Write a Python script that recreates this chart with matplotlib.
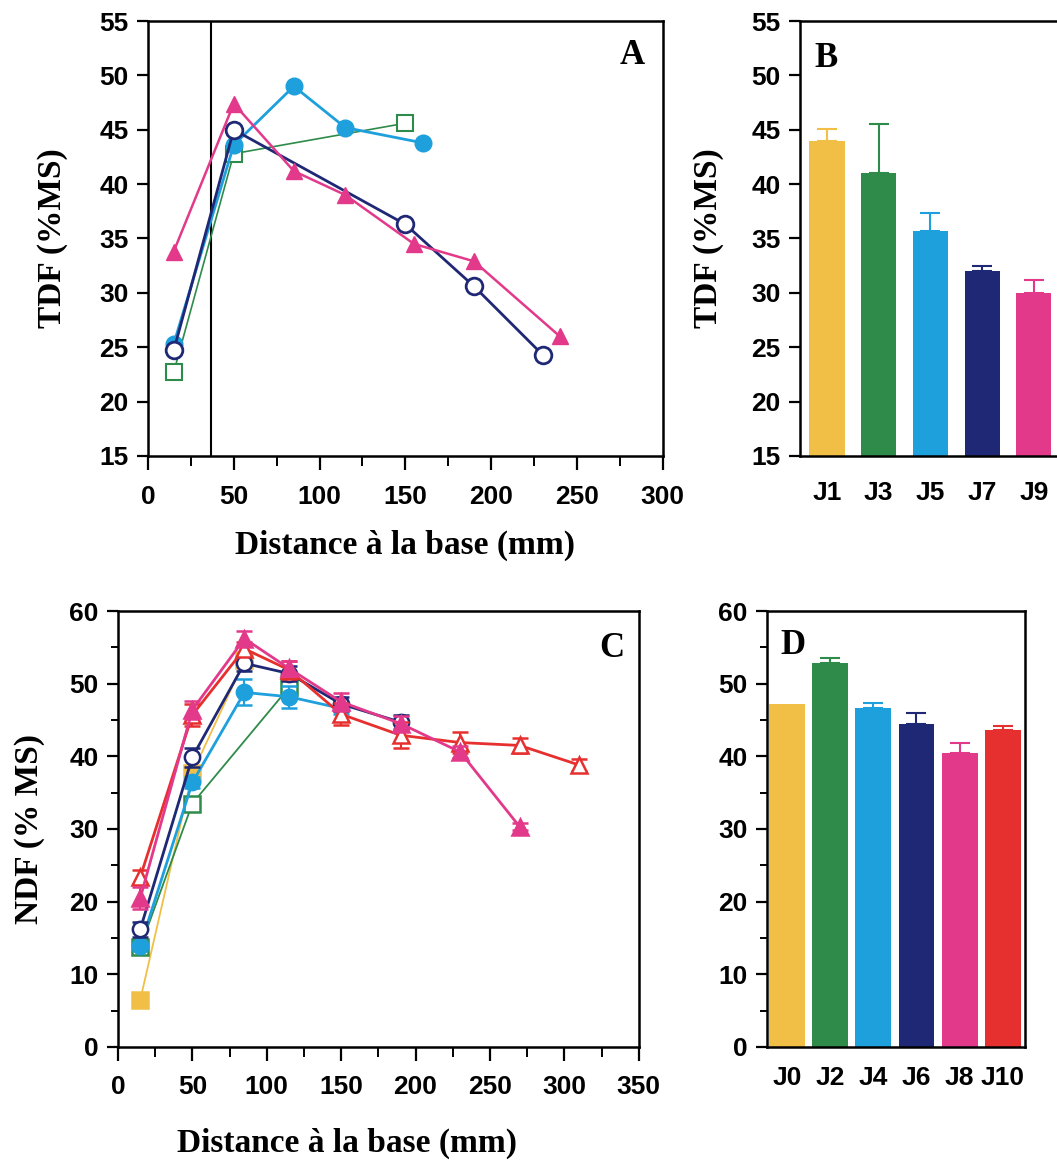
import matplotlib
matplotlib.use("Agg")
import matplotlib.pyplot as plt
from matplotlib.ticker import MultipleLocator

# --- couleurs ---
JAUNE = "#F1BF45"
VERT = "#2E8B4A"
CYAN = "#1EA0DC"
MARINE = "#1F2874"
ROSE = "#E3398A"
ROUGE = "#E6302F"

# --- Panneau A : TDF selon la distance a la base ---
a_rose_x = [15, 50, 85, 115, 155, 190, 240]
a_rose_y = [33.8, 47.4, 41.2, 39.0, 34.5, 32.9, 26.0]
a_marine_x = [15, 50, 150, 190, 230]
a_marine_y = [24.7, 45.0, 36.3, 30.6, 24.3]
a_cyan_x = [15, 50, 85, 115, 160]
a_cyan_y = [25.3, 43.6, 49.0, 45.2, 43.8]
a_vert_x = [15, 50, 150]
a_vert_y = [22.7, 42.8, 45.6]
a_limite = 37  # trait vertical

# --- Panneau B : TDF par jour ---
b_jours = ["J1", "J3", "J5", "J7", "J9"]
b_tdf = [44.0, 41.0, 35.7, 32.0, 30.0]
b_err = [1.1, 4.5, 1.6, 0.5, 1.2]
b_couleurs = [JAUNE, VERT, CYAN, MARINE, ROSE]

# --- Panneau C : NDF selon la distance a la base ---
c_jaune_x = [15, 50, 85]
c_jaune_y = [6.5, 37.7, 53.2]
c_jaune_e = [0.5, 0.5, 0.5]
c_vert_x = [15, 50, 115]
c_vert_y = [13.7, 33.5, 49.5]
c_vert_e = [0.5, 0.6, 0.8]
c_cyan_x = [15, 50, 85, 115, 150]
c_cyan_y = [13.9, 36.4, 48.8, 48.2, 46.6]
c_cyan_e = [0.6, 0.8, 1.8, 1.5, 0.8]
c_marine_x = [15, 50, 85, 115, 150, 190]
c_marine_y = [16.2, 39.9, 52.8, 51.4, 47.2, 44.7]
c_marine_e = [1.0, 1.3, 1.0, 1.0, 1.0, 1.0]
c_rouge_x = [15, 50, 85, 115, 150, 190, 230, 270, 310]
c_rouge_y = [23.4, 45.7, 54.8, 51.9, 45.8, 42.9, 41.9, 41.5, 38.8]
c_rouge_e = [1.0, 1.5, 1.0, 1.2, 1.5, 1.8, 1.5, 1.0, 0.8]
c_rose_x = [15, 50, 85, 115, 150, 190, 230, 270]
c_rose_y = [20.5, 46.4, 56.2, 52.1, 47.5, 44.5, 40.6, 30.3]
c_rose_e = [1.5, 1.2, 1.0, 1.0, 1.2, 1.0, 0.8, 0.5]

# --- Panneau D : NDF par jour ---
d_jours = ["J0", "J2", "J4", "J6", "J8", "J10"]
d_ndf = [47.2, 52.9, 46.7, 44.5, 40.5, 43.6]
d_err = [0.0, 0.6, 0.7, 1.5, 1.3, 0.6]
d_couleurs = [JAUNE, VERT, CYAN, MARINE, ROSE, ROUGE]

SERIF = "Liberation Serif"
SANS = "Liberation Sans"
plt.rcParams["font.family"] = SANS
plt.rcParams["font.weight"] = "bold"

fig = plt.figure(figsize=(10.57, 11.69), dpi=100)
axA = fig.add_axes([0.140, 0.610, 0.487, 0.372])
axB = fig.add_axes([0.757, 0.610, 0.247, 0.372])
axC = fig.add_axes([0.1116, 0.1044, 0.4927, 0.3729])
axD = fig.add_axes([0.7256, 0.1044, 0.2441, 0.3729])


def cadre(ax):
    for s in ax.spines.values():
        s.set_linewidth(1.8)
    ax.tick_params(axis="both", which="major", direction="out", length=8,
                   width=1.6, labelsize=19, pad=6)
    ax.tick_params(axis="both", which="minor", direction="out", length=5,
                   width=1.4)
    for lab in ax.get_xticklabels() + ax.get_yticklabels():
        lab.set_fontweight("bold")


def label_font(size=24):
    return dict(family=SERIF, fontweight="bold", fontsize=size)


# ---------- A ----------
axA.plot(a_vert_x, a_vert_y, color=VERT, lw=1.2, marker="s", ms=11,
         mfc="white", mec=VERT, mew=1.5, zorder=2)
axA.plot(a_cyan_x, a_cyan_y, color=CYAN, lw=2, marker="o", ms=12,
         mfc=CYAN, mec=CYAN, zorder=3)
axA.plot(a_marine_x, a_marine_y, color=MARINE, lw=2, marker="o", ms=12,
         mfc="white", mec=MARINE, mew=2, zorder=4)
axA.plot(a_rose_x, a_rose_y, color=ROSE, lw=1.8, marker="^", ms=12,
         mfc=ROSE, mec=ROSE, zorder=5)
axA.axvline(a_limite, color="black", lw=1.5, zorder=1)
axA.set_xlim(0, 300)
axA.set_ylim(15, 55)
axA.xaxis.set_major_locator(MultipleLocator(50))
axA.xaxis.set_minor_locator(MultipleLocator(25))
axA.yaxis.set_major_locator(MultipleLocator(5))
cadre(axA)
axA.tick_params(axis="x", which="major", length=10, pad=11)
axA.tick_params(axis="x", which="minor", length=7)
axA.set_ylabel("TDF (%MS)", **label_font())
axA.yaxis.set_label_coords(-0.155, 0.5)
axA.set_xlabel("Distance à la base (mm)", **label_font())
axA.xaxis.set_label_coords(0.5, -0.17)
axA.text(0.94, 0.92, "A", transform=axA.transAxes, ha="center", va="center",
         **label_font(25))

# ---------- B ----------
xb = list(range(len(b_jours)))
axB.bar(xb, b_tdf, width=0.68, color=b_couleurs, bottom=0)
for x, v, e, c in zip(xb, b_tdf, b_err, b_couleurs):
    axB.errorbar(x, v, yerr=[[0], [e]], color=c, capsize=7, capthick=1.5,
                 elinewidth=1.5, fmt="none")
axB.set_xlim(-0.52, 4.53)
axB.set_ylim(15, 55)
axB.yaxis.set_major_locator(MultipleLocator(5))
axB.set_xticks(xb)
axB.set_xticklabels(b_jours)
cadre(axB)
axB.tick_params(axis="x", length=0, pad=18)
axB.set_ylabel("TDF (%MS)", **label_font())
axB.yaxis.set_label_coords(-0.29, 0.5)
axB.text(0.10, 0.915, "B", transform=axB.transAxes, ha="center", va="center",
         **label_font(25))

# ---------- C ----------
series_c = [
    (c_jaune_x, c_jaune_y, c_jaune_e, JAUNE, "s", JAUNE),
    (c_vert_x, c_vert_y, c_vert_e, VERT, "s", "white"),
    (c_cyan_x, c_cyan_y, c_cyan_e, CYAN, "o", CYAN),
    (c_marine_x, c_marine_y, c_marine_e, MARINE, "o", "white"),
    (c_rouge_x, c_rouge_y, c_rouge_e, ROUGE, "^", "white"),
    (c_rose_x, c_rose_y, c_rose_e, ROSE, "^", ROSE),
]
for i, (xs, ys, es, col, mk, fc) in enumerate(series_c):
    lw = 1.3 if col in (JAUNE, VERT) else 2
    axC.errorbar(xs, ys, yerr=es, color=col, lw=lw, marker=mk, ms=11,
                 mfc=fc, mec=col, mew=1.8, capsize=6, capthick=1.5,
                 elinewidth=1.5, zorder=2 + i)
axC.set_xlim(0, 350)
axC.set_ylim(0, 60)
axC.xaxis.set_major_locator(MultipleLocator(50))
axC.xaxis.set_minor_locator(MultipleLocator(25))
axC.yaxis.set_major_locator(MultipleLocator(10))
axC.yaxis.set_minor_locator(MultipleLocator(5))
cadre(axC)
axC.tick_params(axis="x", which="major", length=10, pad=10)
axC.tick_params(axis="x", which="minor", length=7)
axC.set_ylabel("NDF (% MS)", **label_font())
axC.yaxis.set_label_coords(-0.14, 0.5)
axC.set_xlabel("Distance à la base (mm)", **label_font())
axC.xaxis.set_label_coords(0.44, -0.185)
axC.text(0.948, 0.915, "C", transform=axC.transAxes, ha="center",
         va="center", **label_font(25))

# ---------- D ----------
xd = list(range(len(d_jours)))
axD.bar(xd, d_ndf, width=0.83, color=d_couleurs)
for x, v, e, c in zip(xd, d_ndf, d_err, d_couleurs):
    if e > 0:
        axD.errorbar(x, v, yerr=[[0], [e]], color=c, capsize=7, capthick=1.5,
                     elinewidth=1.5, fmt="none")
axD.set_xlim(-0.46, 5.51)
axD.set_ylim(0, 60)
axD.yaxis.set_major_locator(MultipleLocator(10))
axD.yaxis.set_minor_locator(MultipleLocator(5))
axD.set_xticks(xd)
axD.set_xticklabels(d_jours)
cadre(axD)
axD.tick_params(axis="x", length=0, pad=14)
axD.text(0.10, 0.922, "D", transform=axD.transAxes, ha="center", va="center",
         **label_font(25))

fig.savefig("out.png", dpi=100)
